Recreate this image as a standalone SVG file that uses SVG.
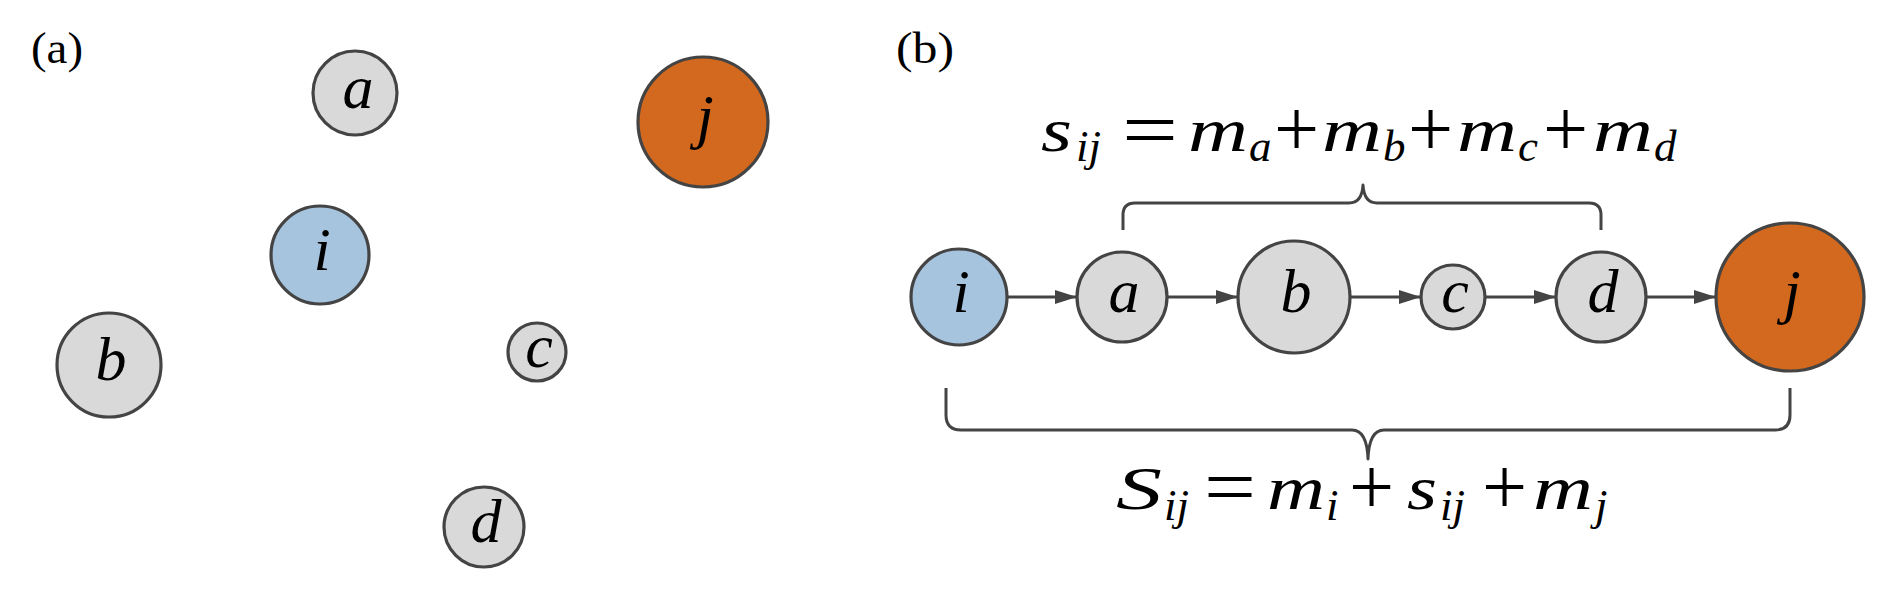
<svg xmlns="http://www.w3.org/2000/svg" width="1890" height="615" viewBox="0 0 1890 615">
<defs>
<style>
.nd{stroke:#444;stroke-width:3.2}
.g{fill:#d9d9d9}
.bl{fill:#a7c4de}
.or{fill:#d2691e}
.v{font-family:"Liberation Serif","Times New Roman",serif;font-style:italic;font-size:62px;fill:#000}
.lab{text-anchor:middle}
.sub{font-family:"Liberation Serif","Times New Roman",serif;font-style:italic;font-size:45px;fill:#000}
.op{font-family:"Liberation Serif","Times New Roman",serif;font-size:80px;fill:#000}
.pl{font-family:"Liberation Serif","Times New Roman",serif;font-size:45px;fill:#000}
.edge{stroke:#444;stroke-width:3;fill:none}
.br{stroke:#444;stroke-width:3;fill:none;stroke-linejoin:round}
</style>
<marker id="arr" viewBox="0 0 22 14" refX="22" refY="7" markerWidth="22" markerHeight="14" markerUnits="userSpaceOnUse" orient="auto">
<path d="M0,0 L22,7 L0,14 Z" fill="#444"/>
</marker>
</defs>
<rect width="1890" height="615" fill="#fff"/>

<text class="pl" x="31" y="63" textLength="52" lengthAdjust="spacingAndGlyphs">(a)</text>
<text class="pl" x="896" y="63" textLength="58" lengthAdjust="spacingAndGlyphs">(b)</text>

<g id="pa-a"><circle class="nd g" cx="355" cy="93" r="42"/><text class="v lab" x="358" y="108">a</text></g>
<g id="pa-j"><circle class="nd or" cx="703" cy="122" r="65"/><text class="v lab" x="705" y="137">j</text></g>
<g id="pa-i"><circle class="nd bl" cx="320" cy="255" r="49"/><text class="v lab" x="322" y="270">i</text></g>
<g id="pa-b"><circle class="nd g" cx="109" cy="365" r="52"/><text class="v lab" x="111" y="380">b</text></g>
<g id="pa-c"><circle class="nd g" cx="537" cy="352" r="29"/><text class="v lab" x="539" y="367">c</text></g>
<g id="pa-d"><circle class="nd g" cx="484" cy="527" r="40"/><text class="v lab" x="486" y="542">d</text></g>

<g id="connectors">
<line class="edge" x1="1007" y1="297" x2="1077" y2="297" marker-end="url(#arr)"/>
<line class="edge" x1="1167" y1="297" x2="1238" y2="297" marker-end="url(#arr)"/>
<line class="edge" x1="1350" y1="297" x2="1421" y2="297" marker-end="url(#arr)"/>
<line class="edge" x1="1485" y1="297" x2="1556" y2="297" marker-end="url(#arr)"/>
<line class="edge" x1="1646" y1="297" x2="1716" y2="297" marker-end="url(#arr)"/>
</g>

<g id="pb-i"><circle class="nd bl" cx="959" cy="297" r="48"/><text class="v lab" x="961" y="312">i</text></g>
<g id="pb-a"><circle class="nd g" cx="1122" cy="297" r="45"/><text class="v lab" x="1124" y="312">a</text></g>
<g id="pb-b"><circle class="nd g" cx="1294" cy="297" r="56"/><text class="v lab" x="1296" y="312">b</text></g>
<g id="pb-c"><circle class="nd g" cx="1453" cy="297" r="32"/><text class="v lab" x="1455" y="312">c</text></g>
<g id="pb-d"><circle class="nd g" cx="1601" cy="297" r="45"/><text class="v lab" x="1603" y="312">d</text></g>
<g id="pb-j"><circle class="nd or" cx="1790" cy="297" r="74"/><text class="v lab" x="1792" y="312">j</text></g>

<g id="braces">
<path class="br" d="M1123,230 L1123,215 Q1123,203 1135,203 L1349,203 Q1362,203 1363,185 Q1364,203 1377,203 L1589,203 Q1601,203 1601,215 L1601,230"/>
<path class="br" d="M946,388 L946,415 Q946,430 961,430 L1352,430 Q1367,430 1368,459 Q1369,430 1384,430 L1775,430 Q1790,430 1790,415 L1790,388"/>
</g>

<g id="formula-s">
<text class="v" x="1041" y="151" textLength="31" lengthAdjust="spacingAndGlyphs">s</text>
<text class="sub" x="1076" y="161">ij</text>
<text class="op" x="1122" y="157" textLength="56" lengthAdjust="spacingAndGlyphs">=</text>
<text class="v" x="1188" y="151" textLength="60" lengthAdjust="spacingAndGlyphs">m</text>
<text class="sub" x="1249" y="161">a</text>
<text class="op" x="1274" y="156">+</text>
<text class="v" x="1322" y="151" textLength="60" lengthAdjust="spacingAndGlyphs">m</text>
<text class="sub" x="1383" y="161">b</text>
<text class="op" x="1408" y="156">+</text>
<text class="v" x="1457" y="151" textLength="60" lengthAdjust="spacingAndGlyphs">m</text>
<text class="sub" x="1518" y="161">c</text>
<text class="op" x="1543" y="156">+</text>
<text class="v" x="1593" y="151" textLength="60" lengthAdjust="spacingAndGlyphs">m</text>
<text class="sub" x="1654" y="161">d</text>
</g>

<g id="formula-S">
<text class="v" x="1116" y="509" textLength="46" lengthAdjust="spacingAndGlyphs">S</text>
<text class="sub" x="1164" y="520">ij</text>
<text class="op" x="1204" y="514" textLength="52" lengthAdjust="spacingAndGlyphs">=</text>
<text class="v" x="1267" y="509" textLength="58" lengthAdjust="spacingAndGlyphs">m</text>
<text class="sub" x="1326" y="520">i</text>
<text class="op" x="1349" y="514">+</text>
<text class="v" x="1407" y="509" textLength="30" lengthAdjust="spacingAndGlyphs">s</text>
<text class="sub" x="1440" y="520">ij</text>
<text class="op" x="1482" y="514">+</text>
<text class="v" x="1533" y="509" textLength="60" lengthAdjust="spacingAndGlyphs">m</text>
<text class="sub" x="1595" y="520">j</text>
</g>
</svg>
